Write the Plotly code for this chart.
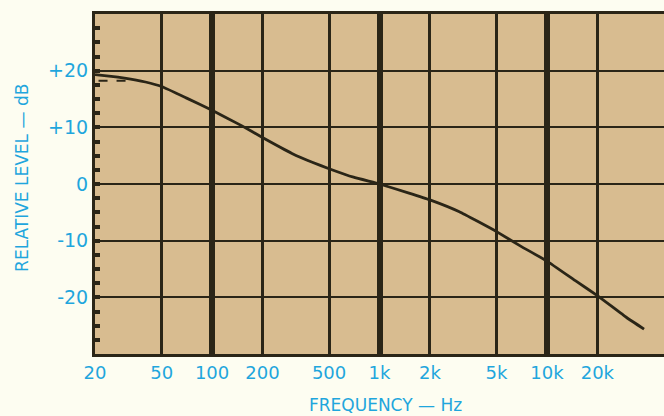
import math
import plotly.graph_objects as go

# Data (frequency response curve)
freq_hz = [20, 25, 30, 40, 50, 70, 100, 150, 200, 300, 400, 500, 700, 1000,
           1500, 2000, 3000, 5000, 7000, 10000, 15000, 20000, 30000, 38000]
level_db = [19.3, 19.0, 18.7, 18.0, 17.2, 15.2, 13.0, 10.3, 8.2, 5.4, 3.8, 2.7, 1.2, 0.0,
            -1.6, -2.8, -4.9, -8.4, -11.0, -13.6, -17.2, -19.7, -23.6, -25.6]

# short second pen trace near the start
pen2_hz = [21, 33]
pen2_db = [18.2, 18.2]

x_tick_vals = [20, 50, 100, 200, 500, 1000, 2000, 5000, 10000, 20000]
x_tick_text = ["20", "50", "100", "200", "500", "1k", "2k", "5k", "10k", "20k"]
x_decades = [100, 1000, 10000]
y_tick_vals = [-20, -10, 0, 10, 20]
y_tick_text = ["-20", "-10", "0", "+10", "+20"]

INK = "#2a2517"
CYAN = "#1fa6dd"
PAPER = "#d8bc90"
PAGE = "#fdfdf1"
FONT = "DejaVu Sans"

fig = go.Figure()
fig.add_trace(go.Scatter(x=freq_hz, y=level_db, mode="lines",
                         line=dict(color=INK, width=2.8, shape="spline", smoothing=0.3),
                         showlegend=False, hoverinfo="skip"))
fig.add_trace(go.Scatter(x=pen2_hz, y=pen2_db, mode="lines",
                         line=dict(color=INK, width=2, dash="dash"),
                         showlegend=False, hoverinfo="skip"))

fig.update_layout(
    width=664, height=416,
    margin=dict(l=95, r=0, t=14, b=62),
    paper_bgcolor=PAGE, plot_bgcolor=PAPER,
    font=dict(family=FONT, color=CYAN),
    xaxis=dict(
        type="log", range=[math.log10(20), math.log10(50000)],
        tickmode="array", tickvals=x_tick_vals, ticktext=x_tick_text,
        tickfont=dict(size=18, color=CYAN, family=FONT),
        showgrid=True, gridcolor=INK, gridwidth=2.5,
        showline=True, linecolor=INK, linewidth=3, mirror=True,
        ticks="", zeroline=False,
        minor=dict(tickvals=x_decades, showgrid=True, gridcolor=INK, gridwidth=6, ticks=""),
    ),
    yaxis=dict(
        range=[-30, 30],
        tickmode="array", tickvals=y_tick_vals, ticktext=y_tick_text,
        tickfont=dict(size=19, color=CYAN, family=FONT),
        showgrid=True, gridcolor=INK, gridwidth=2,
        showline=True, linecolor=INK, linewidth=3, mirror=False,
        ticks="inside", ticklen=5, tickwidth=4, tickcolor=INK,
        zeroline=False,
        minor=dict(dtick=2.5, tick0=0, ticks="inside", ticklen=5, tickwidth=4,
                   tickcolor=INK, showgrid=False),
    ),
    annotations=[
        dict(text="FREQUENCY — Hz", xref="paper", yref="paper", x=0.51, y=0,
             yanchor="middle", xanchor="center", yshift=-51, showarrow=False,
             font=dict(size=17, color=CYAN, family=FONT)),
        dict(text="RELATIVE LEVEL — dB", xref="paper", yref="paper", x=0, y=0.518,
             xanchor="center", yanchor="middle", xshift=-73, textangle=-90,
             showarrow=False, font=dict(size=17, color=CYAN, family=FONT)),
    ],
)

fig.write_html("out.html", config={"displayModeBar": False},
               post_script="document.body.style.margin='0';document.body.style.padding='0';"
                           "document.body.style.background='" + PAGE + "';")
